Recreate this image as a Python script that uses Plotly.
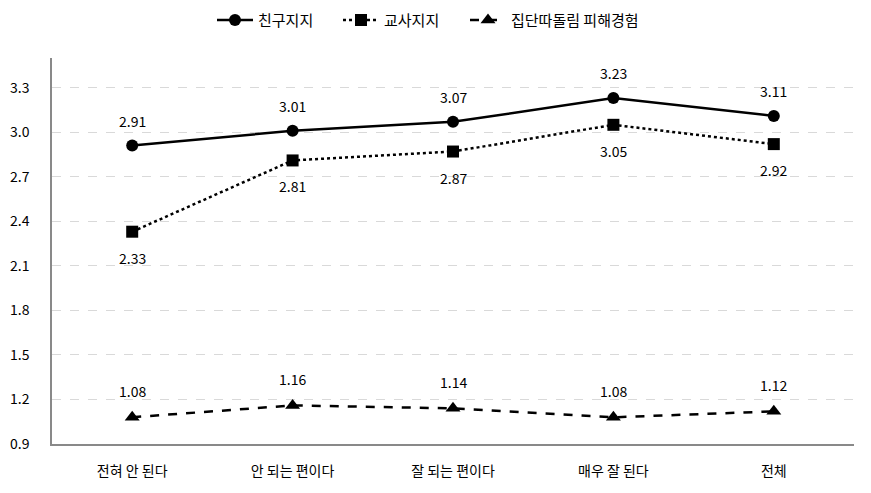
import plotly.graph_objects as go

categories = ["전혀 안 된다", "안 되는 편이다", "잘 되는 편이다", "매우 잘 된다", "전체"]
friend = [2.91, 3.01, 3.07, 3.23, 3.11]
teacher = [2.33, 2.81, 2.87, 3.05, 2.92]
bully = [1.08, 1.16, 1.14, 1.08, 1.12]
series_names = ["친구지지", "교사지지", "집단따돌림 피해경험"]
y_ticks = [0.9, 1.2, 1.5, 1.8, 2.1, 2.4, 2.7, 3.0, 3.3]

FONT = "Noto Sans CJK KR, Malgun Gothic, sans-serif"

fig = go.Figure()
fig.add_trace(go.Scatter(x=categories, y=friend, name=series_names[0], mode="lines+markers",
                         line=dict(color="black", width=2.5, dash="solid"),
                         marker=dict(symbol="circle", size=12, color="black"),
                         legend="legend"))
fig.add_trace(go.Scatter(x=categories, y=teacher, name=series_names[1], mode="lines+markers",
                         line=dict(color="black", width=2.5, dash="dot"),
                         marker=dict(symbol="square", size=12, color="black"),
                         legend="legend2"))
fig.add_trace(go.Scatter(x=categories, y=bully, name=series_names[2], mode="lines+markers",
                         line=dict(color="black", width=2.5, dash="dash"),
                         marker=dict(symbol="triangle-up", size=13, color="black"),
                         legend="legend3"))

annotations = []
for vals, shift in [(friend, 25), (teacher, -26), (bully, 26)]:
    for c, v in zip(categories, vals):
        annotations.append(dict(x=c, y=v, text=f"{v:.2f}", showarrow=False, yshift=shift,
                                font=dict(family=FONT, size=14, color="black")))

def leg(px):
    return dict(orientation="h", x=(px - 52) / 802, xanchor="left", y=1.098, yanchor="middle",
                font=dict(family=FONT, size=15), itemwidth=36, bgcolor="rgba(0,0,0,0)")

fig.update_layout(
    width=871, height=493,
    margin=dict(l=44, r=25, t=50, b=57, autoexpand=False),
    plot_bgcolor="white", paper_bgcolor="white",
    font=dict(family=FONT, size=14, color="black"),
    showlegend=True,
    legend=leg(212), legend2=leg(338), legend3=leg(465),
    annotations=annotations,
)
fig.update_xaxes(range=[-0.5, 4.5], showline=True, linecolor="#898989", linewidth=1.5,
                 ticks="", showgrid=False, tickfont=dict(family=FONT, size=14),
                 ticklabelstandoff=13, automargin=False)
fig.update_yaxes(range=[0.9, 3.5], tickvals=y_ticks, ticktext=[f"{t:.1f}" for t in y_ticks],
                 showline=True, linecolor="#898989", linewidth=1.5, ticks="",
                 showgrid=True, gridcolor="#d9d9d9", griddash="dash", gridwidth=1,
                 zeroline=False, tickfont=dict(family=FONT, size=14), ticklabelstandoff=18,
                 automargin=False)

fig.write_html("out.html")
